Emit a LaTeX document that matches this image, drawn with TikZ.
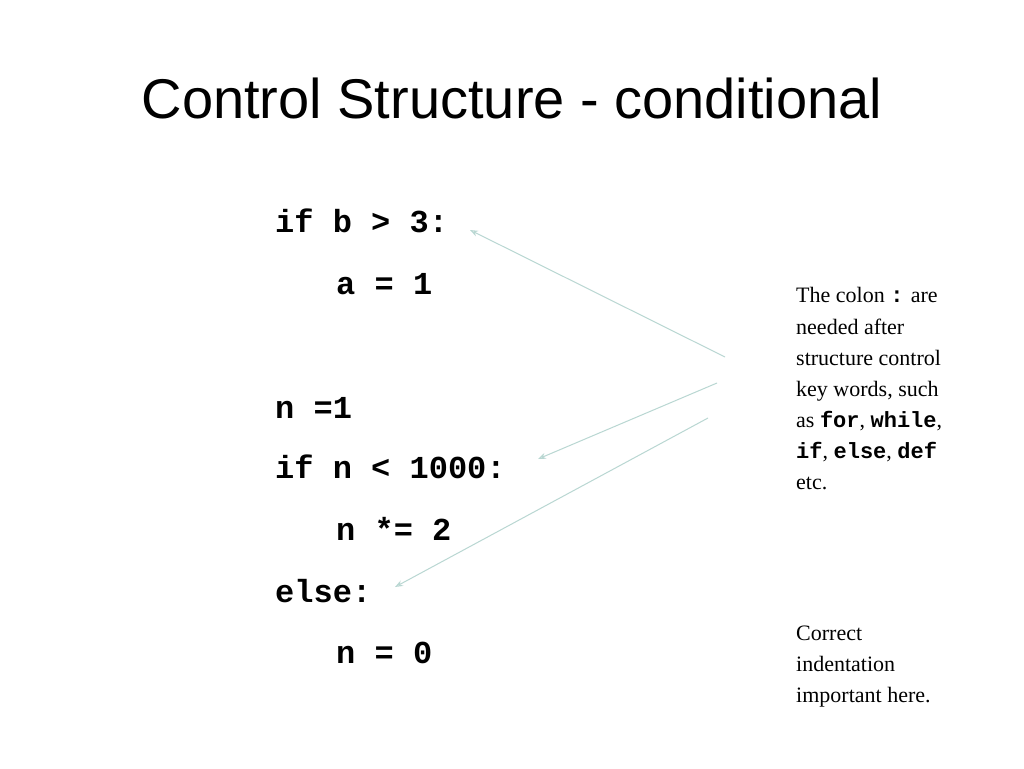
\documentclass[tikz,border=0pt]{standalone}
\usepackage{fontspec}
\setmainfont{Liberation Serif}
\newfontfamily\arial{Liberation Sans}
\newfontfamily\cour{Liberation Mono}
\usetikzlibrary{arrows.meta}
\definecolor{arr}{RGB}{185,215,210}
\begin{document}
\begin{tikzpicture}[x=1pt,y=-1pt,
  code/.style={anchor=base west,inner sep=0,font=\cour\bfseries\fontsize{32}{32}\selectfont},
  note/.style={anchor=base west,inner sep=0,font=\fontsize{22}{22}\selectfont},
  pt/.style={color=arr,line width=1pt,-{Stealth[open,length=8pt,width=6pt]}}]
\useasboundingbox[fill=white] (0,0) rectangle (1024,768);
\node[anchor=base,inner sep=0,font=\arial\fontsize{56}{56}\selectfont] (t) at (512,118) {Control Structure - conditional};
\node[code] (c1) at (275,232) {if b > 3:};
\node[code] (c2) at (336,294) {a = 1};
\node[code] (c3) at (275,418) {n =1};
\node[code] (c4) at (275,478) {if n < 1000:};
\node[code] (c5) at (336,540) {n *= 2};
\node[code] (c6) at (275,602) {else:};
\node[code] (c7) at (336,663) {n = 0};
\newcommand\cb[1]{{\cour\bfseries #1}}
\node[note] (n1) at (796,302) {The colon \cb{:} are};
\node[note] at (796,334) {needed after};
\node[note] at (796,365) {structure control};
\node[note] at (796,396) {key words, such};
\node[note] at (796,427) {as \cb{for}, \cb{while},};
\node[note] at (796,458) {\cb{if}, \cb{else}, \cb{def}};
\node[note] at (796,489) {etc.};
\node[note] at (796,640) {Correct};
\node[note] at (796,671) {indentation};
\node[note] at (796,702) {important here.};
\coordinate (s1) at (725,357); \coordinate (e1) at (470,230);
\coordinate (s2) at (717,383); \coordinate (e2) at (538,459);
\coordinate (s3) at (708,418); \coordinate (e3) at (395,587);
\draw[pt] (s1) -- (e1);
\draw[pt] (s2) -- (e2);
\draw[pt] (s3) -- (e3);
\end{tikzpicture}
\end{document}
